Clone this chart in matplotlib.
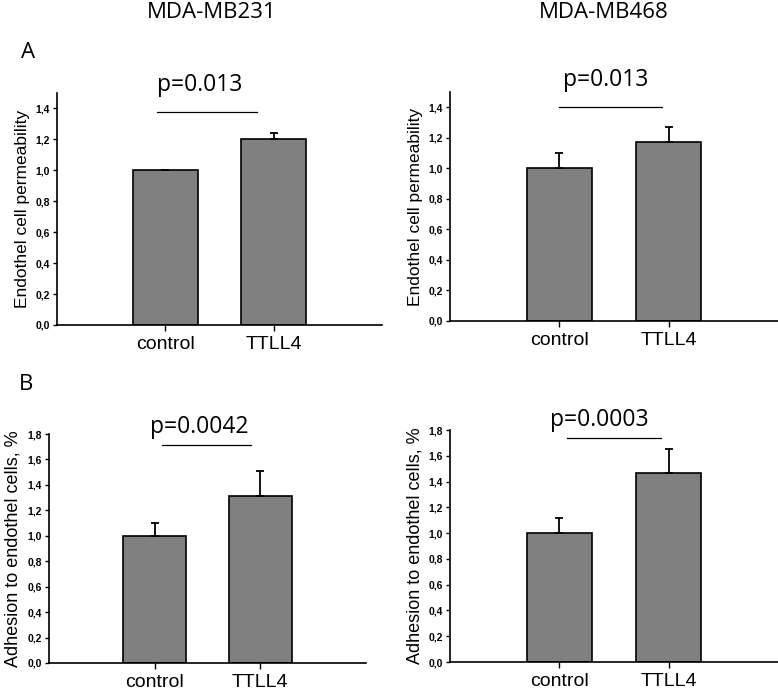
import matplotlib
matplotlib.use("Agg")
import matplotlib.pyplot as plt

groups = ["control", "TTLL4"]

# panel A: endothelial permeability
perm_231 = [1.00, 1.20]
perm_231_err = [0.0, 0.04]
perm_468 = [1.00, 1.17]
perm_468_err = [0.10, 0.10]

# panel B: adhesion to endothelial cells
adh_231 = [1.00, 1.31]
adh_231_err = [0.10, 0.20]
adh_468 = [1.00, 1.47]
adh_468_err = [0.12, 0.18]

p_labels = ["p=0.013", "p=0.013", "p=0.0042", "p=0.0003"]
cell_lines = ["MDA-MB231", "MDA-MB468"]
ylabel_a = "Endothel cell permeability"
ylabel_b = "Adhesion to endothel cells, %"

W, H = 778, 692
fig = plt.figure(figsize=(W / 100, H / 100), dpi=100)


def px_axes(x0, x1, ytop, ybot):
    return fig.add_axes([x0 / W, 1 - ybot / H, (x1 - x0) / W, (ybot - ytop) / H])


panels = [
    (px_axes(57, 382, 93, 325), perm_231, perm_231_err, 1.5, 1.4, ylabel_a, 12.5,
     (-0.08, 0.85, 1.38), (0.32, 1.51)),
    (px_axes(450, 778, 92, 321), perm_468, perm_468_err, 1.5, 1.4, ylabel_a, 12.5,
     (0.0, 0.94, 1.40), (0.42, 1.54)),
    (px_axes(49, 366, 434, 663), adh_231, adh_231_err, 1.8, 1.8, ylabel_b, 13,
     (0.07, 0.91, 1.71), (0.42, 1.81)),
    (px_axes(450, 778, 430, 662), adh_468, adh_468_err, 1.8, 1.8, ylabel_b, 13,
     (0.07, 0.93, 1.74), (0.37, 1.83)),
]

x = [0, 1]
for i, (ax, vals, errs, ymax, ytop, ylab, ylsize, pline, ptext) in enumerate(panels):
    ax.bar(x, vals, width=0.6, color="#808080", edgecolor="black", linewidth=1.2, zorder=2)
    ax.errorbar(x, vals, yerr=[[0, 0], errs], fmt="none", ecolor="black",
                elinewidth=1.3, capsize=3, capthick=1.3, zorder=3)
    ax.set_xlim(-1, 2)
    ax.set_ylim(0, ymax)
    n = int(round(ytop / 0.2))
    ax.set_yticks([k * 0.2 for k in range(n + 1)])
    ax.set_yticklabels([f"{k * 0.2:.1f}".replace(".", ",") for k in range(n + 1)],
                       fontsize=7.5, family="Liberation Sans", fontweight="bold")
    ax.set_xticks(x)
    ax.set_xticklabels(groups, fontsize=14, family="Liberation Sans")
    ax.tick_params(axis="y", direction="out", length=3, width=1, pad=2)
    ax.tick_params(axis="x", direction="out", length=4, width=1, pad=4)
    for s in ["top", "right"]:
        ax.spines[s].set_visible(False)
    for s in ["left", "bottom"]:
        ax.spines[s].set_linewidth(1.2)
    ax.set_ylabel(ylab, fontsize=ylsize, family="Liberation Sans", labelpad=4)
    ax.plot(pline[:2], [pline[2]] * 2, color="black", linewidth=0.9, clip_on=False)
    ax.text(ptext[0], ptext[1], p_labels[i], ha="center", va="baseline",
            fontsize=16.5, family="Open Sans", clip_on=False)

fig.text(212 / W, 1 - 12 / H, cell_lines[0], ha="center", va="center",
         fontsize=16, family="Open Sans")
fig.text(604 / W, 1 - 12 / H, cell_lines[1], ha="center", va="center",
         fontsize=16, family="Open Sans")
fig.text(28 / W, 1 - 53 / H, "A", ha="center", va="center", fontsize=16, family="Open Sans")
fig.text(26 / W, 1 - 385 / H, "B", ha="center", va="center", fontsize=16, family="Open Sans")

fig.savefig("out.png", dpi=100)
